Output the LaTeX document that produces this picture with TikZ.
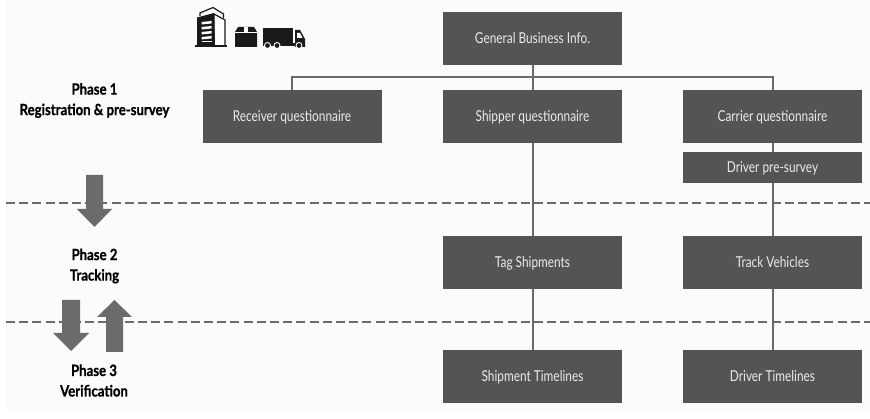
\documentclass[tikz,border=0pt]{standalone}
\usepackage{fontspec}
\setmainfont[FakeStretch=0.79]{Lato}
\newfontfamily\phasefont[FakeStretch=0.85,BoldFeatures={FakeBold=0.8}]{Lato}
\definecolor{boxc}{HTML}{555453}
\definecolor{linec}{HTML}{6A6A6A}
\definecolor{arrowc}{HTML}{6B6B6A}
\definecolor{bgc}{HTML}{FBFBFB}
\definecolor{iconc}{HTML}{1A1A1A}
\tikzset{
  x=1pt,y=-1pt,
  bigbox/.style={fill=boxc,text=white!92!black,minimum width=179pt,minimum height=53pt,inner sep=0pt,font=\fontsize{15}{17}\selectfont,text height=13.5pt,text depth=3pt,anchor=center},
  smallbox/.style={bigbox,minimum height=31pt},
  phase/.style={align=center,font=\fontsize{15.5}{20.5}\selectfont\phasefont\bfseries,text=black},
  conn/.style={draw=linec,line width=2pt},
  dashline/.style={draw=linec,line width=1.7pt,dash pattern=on 9pt off 4.2pt},
  bigarrow/.style={fill=arrowc,draw=none},
  icon/.style={fill=iconc,draw=none},
}
\begin{document}
\begin{tikzpicture}
\useasboundingbox (0,0) rectangle (870,419);
\fill[white] (0,0) rectangle (870,419);
\fill[bgc] (6,0) rectangle (870,410);
% dashed lines
\coordinate (d1l) at (6,203); \coordinate (d1r) at (870,203);
\coordinate (d2l) at (6,322); \coordinate (d2r) at (870,322);
\draw[dashline] (d1l) -- (d1r);
\draw[dashline] (d2l) -- (d2r);
% boxes
\node[bigbox] (gen) at (532.5,38.5) {General Business Info.};
\node[bigbox] (rec) at (292,116.5) {Receiver questionnaire};
\node[bigbox] (shi) at (532.5,116.5) {Shipper questionnaire};
\node[bigbox] (car) at (772.5,116.5) {Carrier questionnaire};
\node[smallbox] (drv) at (772.5,167.5) {Driver pre-survey};
\node[bigbox] (tag) at (532.5,262.5) {Tag Shipments};
\node[bigbox] (trk) at (772.5,262.5) {Track Vehicles};
\node[bigbox] (stl) at (532.5,376.5) {Shipment Timelines};
\node[bigbox] (dtl) at (772.5,376.5) {Driver Timelines};
% connectors
\coordinate (bus) at (532.5,77);
\draw[conn] (gen.south) -- (bus);
\draw[conn] (rec.north) -- (rec.north |- bus) -- (car.north |- bus) -- (car.north);
\draw[conn] (shi.north) -- (shi.north |- bus);
\draw[conn] (shi.south) -- (tag.north);
\draw[conn] (tag.south) -- (stl.north);
\draw[conn] (car.south) -- (drv.north);
\draw[conn] (drv.south) -- (trk.north);
\draw[conn] (trk.south) -- (dtl.north);
% phase labels
\node[phase] (p1) at (94.5,100.5) {Phase 1\\Registration \& pre-survey};
\node[phase] (p2) at (94.5,266) {Phase 2\\Tracking};
\node[phase] (p3) at (94,380.5) {Phase 3\\Verification};
% big arrows
\fill[bigarrow] (86,175) -- (103,175) -- (103,209) -- (112,209) -- (94.5,227) -- (77,209) -- (86,209) -- cycle;
\fill[bigarrow] (62,300) -- (80,300) -- (80,333) -- (89,333) -- (71,351) -- (53,333) -- (62,333) -- cycle;
\fill[bigarrow] (106,352) -- (123,352) -- (123,317) -- (132,317) -- (114.5,300) -- (97,317) -- (106,317) -- cycle;
% building icon
\draw[iconc,line width=1.2pt] (200,16) -- (200,13) -- (213,7.5) -- (223.5,14) -- (223.5,18);
\draw[iconc,line width=1.2pt,fill=white] (214,14) -- (225,20) -- (225,46) -- (214,46) -- cycle;
\fill[icon] (197,17.5) -- (214,13) -- (215,46) -- (197,46) -- cycle;
\fill[icon] (195,45.5) rectangle (227,47.5);
\foreach \yy in {22,27,32,37}{\fill[white] (201.5,\yy) -- (211.5,\yy-1) -- (211.5,\yy+1.5) -- (201.5,\yy+2.5) -- cycle;}
\fill[white] (201.5,41) rectangle (211.5,42.5);
% box icon
\fill[icon] (235,32) -- (238,27) -- (254,27) -- (257,32) -- (257,47) -- (235,47) -- cycle;
\fill[white] (244,27) rectangle (248,33);
\draw[white,line width=0.7pt] (235,32) -- (257,32);
% truck icon
\fill[icon] (263,28) rectangle (293,44);
\fill[icon] (295,30) -- (300,30) -- (305,39) -- (305,47) -- (295,47) -- cycle;
\fill[white] (297,33) -- (300,33) -- (302.5,38) -- (297,38) -- cycle;
\fill[icon] (263,43) rectangle (296,46);
\foreach \xx in {267.5,277,299}{\filldraw[fill=iconc,draw=white,line width=0.9pt] (\xx,45.5) circle (3pt);}
\end{tikzpicture}
\end{document}
